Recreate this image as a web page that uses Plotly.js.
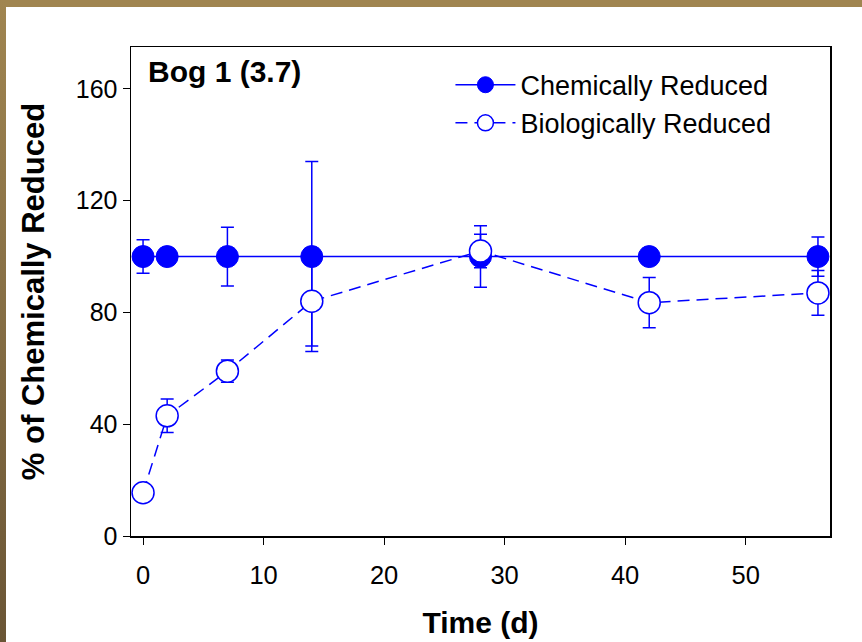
<!DOCTYPE html>
<html>
<head>
<meta charset="utf-8">
<script src="https://cdn.plot.ly/plotly-3.0.1.min.js"></script>
<style>
  html, body { margin: 0; padding: 0; background: #ffffff; }
  #wrap { position: relative; width: 862px; height: 642px; overflow: hidden; background: #ffffff; }
  #chart { position: absolute; left: 0; top: 0; width: 862px; height: 642px; }
  #bandTop { position: absolute; left: 0; top: 0; width: 862px; height: 7px; background: #A08550; z-index: 5; }
  #bandLeft { position: absolute; left: 0; top: 0; width: 6px; height: 642px; z-index: 5;
              background: linear-gradient(to bottom, #A08550 0%, #8A7247 40%, #6A5535 100%); }
</style>
</head>
<body>
<div id="wrap">
  <div id="chart"></div>
  <div id="bandTop"></div>
  <div id="bandLeft"></div>
</div>
<script>
// Data
const chemDays   = [0, 2, 7, 14, 28, 42, 56];
const chemValues = [100, 100, 100, 100, 100, 100, 100];
const chemErrors = [6, 0, 10.5, 34, 11, 0, 7];

const bioDays   = [0, 2, 7, 14, 28, 42, 56];
const bioValues = [15.5, 43, 59, 84, 102, 83.5, 87];
const bioErrors = [0, 6, 4, 16, 6, 9, 8];

const xTicks = [0, 10, 20, 30, 40, 50];
const yTicks = [0, 40, 80, 120, 160];

const BLUE = '#0000FF';
const FONT = 'Liberation Sans, Arial, sans-serif';

const chem = {
  x: chemDays, y: chemValues, name: 'Chemically Reduced',
  type: 'scatter', mode: 'lines+markers',
  line: { color: BLUE, width: 1.5 },
  marker: { symbol: 'circle', size: 22, color: BLUE, line: { color: BLUE, width: 1 } },
  error_y: { type: 'data', array: chemErrors, visible: true, color: BLUE, thickness: 1.5, width: 6.5 }
};
const bio = {
  x: bioDays, y: bioValues, name: 'Biologically Reduced',
  type: 'scatter', mode: 'lines+markers',
  line: { color: BLUE, width: 1.5, dash: '12px,7px' },
  marker: { symbol: 'circle', size: 22, color: '#ffffff', line: { color: BLUE, width: 1.5 } },
  error_y: { type: 'data', array: bioErrors, visible: true, color: BLUE, thickness: 1.5, width: 6.5 }
};

const layout = {
  width: 862, height: 642,
  margin: { l: 131, r: 32, t: 47, b: 106 },
  paper_bgcolor: '#ffffff', plot_bgcolor: '#ffffff',
  font: { family: FONT, color: '#000000', size: 25 },
  showlegend: true,
  legend: {
    x: 0.457, y: 0.972, xanchor: 'left', yanchor: 'top',
    bgcolor: 'rgba(0,0,0,0)', borderwidth: 0,
    itemwidth: 60,
    font: { family: FONT, size: 27, color: '#000000' },
    tracegroupgap: 0
  },
  xaxis: {
    range: [-1, 57], tickmode: 'array', tickvals: xTicks, ticktext: xTicks.map(String),
    showgrid: false, zeroline: false,
    showline: true, linecolor: '#000000', linewidth: 1.5, mirror: true,
    ticks: 'outside', ticklen: 7, tickwidth: 1, tickcolor: '#000000',
    ticklabelstandoff: 9,
    tickfont: { family: FONT, size: 25.5, color: '#000000' },
    title: { text: '<b>Time (d)</b>', font: { family: FONT, size: 30, color: '#000000' }, standoff: 24 }
  },
  yaxis: {
    range: [0, 175], tickmode: 'array', tickvals: yTicks, ticktext: yTicks.map(String),
    showgrid: false, zeroline: false,
    showline: true, linecolor: '#000000', linewidth: 1.5, mirror: true,
    ticks: 'outside', ticklen: 7, tickwidth: 1, tickcolor: '#000000',
    tickfont: { family: FONT, size: 25, color: '#000000' },
    title: { text: '<b>% of Chemically Reduced</b>', font: { family: FONT, size: 31, color: '#000000' }, standoff: 22 }
  },
  annotations: [{
    text: '<b>Bog 1 (3.7)</b>', xref: 'paper', yref: 'paper',
    x: 0.022, y: 0.988, xanchor: 'left', yanchor: 'top', showarrow: false,
    font: { family: FONT, size: 30, color: '#000000' }
  }]
};

Plotly.newPlot('chart', [chem, bio], layout, { displayModeBar: false, staticPlot: true });
</script>
</body>
</html>
